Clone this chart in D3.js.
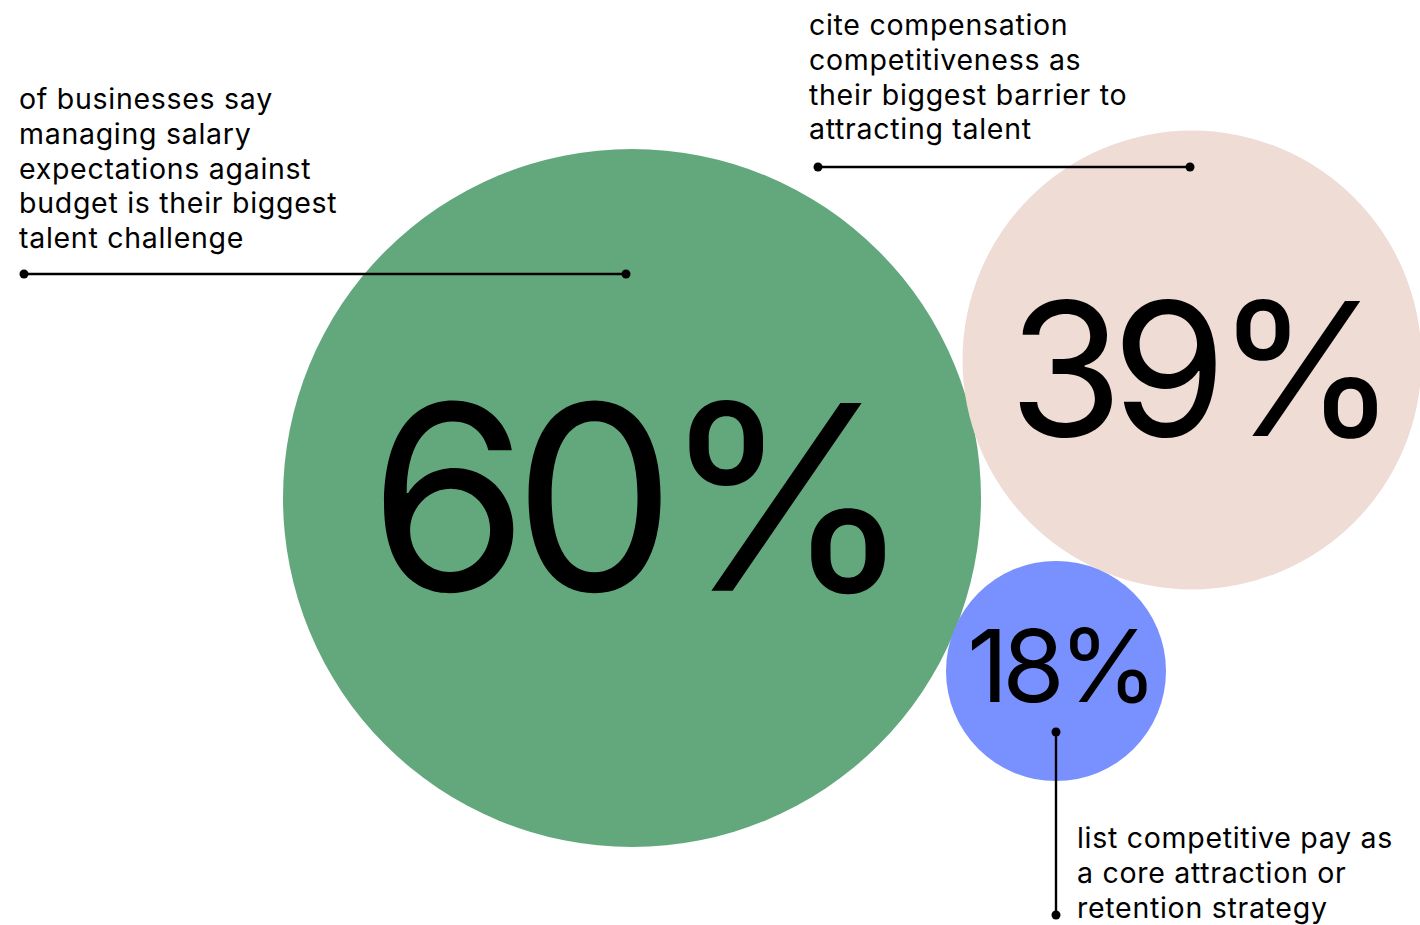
<!DOCTYPE html>
<html>
<head>
<meta charset="utf-8">
<script src="https://cdn.jsdelivr.net/npm/d3@7"></script>
<style>
  html, body { margin: 0; padding: 0; background: #ffffff; }
  svg { display: block; }
  text { font-family: Inter, "Noto Sans", sans-serif; fill: #000; }
</style>
</head>
<body>
<svg id="chart" width="1420" height="925"></svg>
<script>
// Survey results shown as bubbles
const stats = ["60%", "39%", "18%"];
const values = [60, 39, 18];
const colors = ["#63a87d", "#eedcd5", "#7891fe"];
const captions = [
  ["of businesses say", "managing salary", "expectations against", "budget is their biggest", "talent challenge"],
  ["cite compensation", "competitiveness as", "their biggest barrier to", "attracting talent"],
  ["list competitive pay as", "a core attraction or", "retention strategy"]
];

const W = 1420, H = 925;
const svg = d3.select("#chart");

// Bubble radius grows linearly with the share
const rScale = d3.scaleLinear().domain([18, 60]).range([110, 349]);
// Numeral size follows the bubble radius
const fontScale = d3.scaleLinear().domain([110, 229, 349]).range([101, 185, 258]);
const CAP = 0.757;       // digit height relative to font size
const TRACK = -0.06;     // tracking of the big numerals, in em

// Layout of each bubble and its annotation
const layout = [
  { cx: 632, cy: 498, dx: 1.5, dy: -5,
    leader: { x1: 24, y1: 274, x2: 626, y2: 274 },
    label: { x: 19, y: 109 } },
  { cx: 1192, cy: 360, dx: 5.5, dy: 6,
    leader: { x1: 818, y1: 167, x2: 1190, y2: 167 },
    label: { x: 809, y: 35 } },
  { cx: 1056, cy: 671, dx: 3.5, dy: -7.5,
    leader: { x1: 1056, y1: 732, x2: 1056, y2: 915 },
    label: { x: 1077, y: 848 } }
];

const data = values.map((v, i) => ({
  value: v, stat: stats[i], color: colors[i], caption: captions[i], ...layout[i]
}));

// Bubbles
svg.append("g").selectAll("circle")
  .data(data)
  .join("circle")
  .attr("cx", d => d.cx)
  .attr("cy", d => d.cy)
  .attr("r", d => rScale(d.value))
  .attr("fill", d => d.color);

// Big percentages, centred on the bubble by digit height
svg.append("g").selectAll("text")
  .data(data)
  .join("text")
  .attr("text-anchor", "middle")
  .attr("x", d => d.cx + d.dx)
  .attr("y", d => {
    const fs = fontScale(rScale(d.value));
    return d.cy + d.dy + fs * CAP / 2;
  })
  .style("font-size", d => fontScale(rScale(d.value)) + "px")
  .style("letter-spacing", TRACK + "em")
  .style("font-weight", 400)
  .text(d => d.stat);

// Leader lines with end dots
const leaders = svg.append("g");
leaders.selectAll("line")
  .data(data)
  .join("line")
  .attr("x1", d => d.leader.x1).attr("y1", d => d.leader.y1)
  .attr("x2", d => d.leader.x2).attr("y2", d => d.leader.y2)
  .attr("stroke", "#000")
  .attr("stroke-width", 2.4);
leaders.selectAll("circle")
  .data(data.flatMap(d => [[d.leader.x1, d.leader.y1], [d.leader.x2, d.leader.y2]]))
  .join("circle")
  .attr("cx", d => d[0]).attr("cy", d => d[1])
  .attr("r", 4.5)
  .attr("fill", "#000");

// Captions
const lineH = 34.8;
svg.append("g").selectAll("text")
  .data(data)
  .join("text")
  .attr("x", d => d.label.x)
  .attr("y", d => d.label.y)
  .style("font-size", "28.5px")
  .style("font-weight", 400)
  .style("letter-spacing", "0.025em")
  .each(function (d) {
    d3.select(this).selectAll("tspan")
      .data(d.caption)
      .join("tspan")
      .attr("x", d.label.x)
      .attr("dy", (t, j) => j === 0 ? 0 : lineH)
      .text(t => t);
  });
</script>
</body>
</html>
